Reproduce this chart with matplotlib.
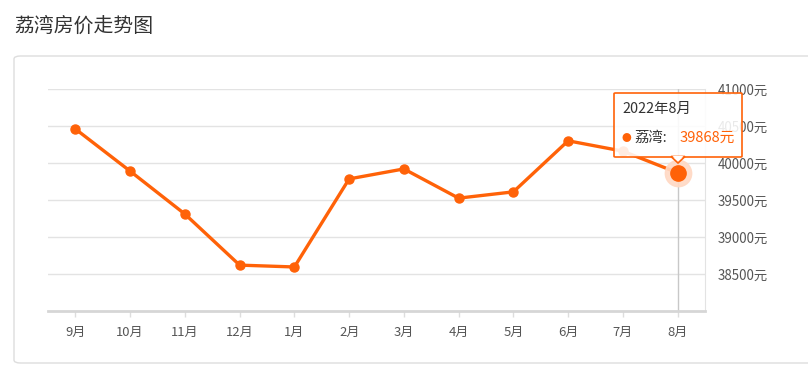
import matplotlib
matplotlib.use("Agg")
import matplotlib.pyplot as plt
from matplotlib.patches import FancyBboxPatch, Polygon

plt.rcParams['font.family'] = ['Noto Sans CJK SC', 'DejaVu Sans']

months = ['9月', '10月', '11月', '12月', '1月', '2月', '3月', '4月', '5月', '6月', '7月', '8月']
prices = [40460, 39890, 39310, 38620, 38595, 39785, 39920, 39525, 39610, 40300, 40160, 39868]
yticks = [38500, 39000, 39500, 40000, 40500, 41000]
title = '荔湾房价走势图'
tip_title = '2022年8月'
tip_name = '荔湾:'

W, H = 808, 372
orange = '#ff6208'

fig = plt.figure(figsize=(W / 100, H / 100), dpi=100)


def px(x, y):
    # pixel (from top-left) -> figure fraction
    return x / W, 1 - y / H


# title + card
fig.text(*px(14, 26), title, fontsize=14.3, color='#333333', va='center', ha='left')
card = FancyBboxPatch(px(14, 363), (W + 20) / W, (363 - 56) / H,
                      boxstyle='round,pad=0,rounding_size=0.008',
                      transform=fig.transFigure, fc='white', ec='#dddddd', lw=1,
                      zorder=-5)
fig.patches.append(card)

l, b = px(48, 311)
r, t = px(705, 89)
ax = fig.add_axes([l, b, r - l, t - b])
ax.set_facecolor('none')

x = list(range(len(months)))
ax.plot(x, prices, color=orange, lw=2.4, marker='o', ms=6.5, zorder=3)

ax.set_xlim(-0.5, len(months) - 0.5)
ax.set_ylim(38000, 41000)
ax.set_xticks(x)
ax.set_xticklabels(months)
ax.set_yticks(yticks)
ax.set_yticklabels([f'{v}元' for v in yticks])
ax.yaxis.tick_right()
ax.tick_params(axis='y', length=0, pad=9, labelsize=9.6, labelcolor='#555555')
ax.tick_params(axis='x', length=4, width=1, color='#dddddd', pad=7,
               labelsize=9.4, labelcolor='#555555')
ax.grid(axis='y', color='#e3e3e3', lw=1)
for s in ['top', 'left']:
    ax.spines[s].set_visible(False)
ax.spines['right'].set_color('#e3e3e3')
ax.spines['bottom'].set_color('#d6d6d6')
ax.spines['bottom'].set_linewidth(2)

# hover state on last point
last = len(months) - 1
ax.axvline(last, color='#c8c8c8', lw=1, zorder=2)
ax.plot(last, prices[last], 'o', ms=19, color='#ffd9c4', alpha=0.9, zorder=4)
ax.plot(last, prices[last], 'o', ms=11, color=orange, zorder=5)

# tooltip
bx0, by0 = px(614, 157)
bx1, by1 = px(742, 93)
tip = FancyBboxPatch((bx0, by0), bx1 - bx0, by1 - by0,
                     boxstyle='round,pad=0,rounding_size=0.002',
                     transform=fig.transFigure, fc=(1, 1, 1, 0.88), ec=orange, lw=1.2,
                     zorder=10)
fig.patches.append(tip)
tri = Polygon([px(671, 156.5), px(685, 156.5), px(678, 163)], closed=True,
              transform=fig.transFigure, fc='white', ec=orange, lw=1.2, zorder=11)
fig.patches.append(tri)
fig.patches.append(Polygon([px(672.5, 156), px(683.5, 156), px(678, 161)], closed=True,
                           transform=fig.transFigure, fc='white', ec='none', zorder=12))
fig.text(*px(622, 109), tip_title, fontsize=10.4, color='#333333', va='center', zorder=13)
fig.text(*px(626, 138), '●', fontsize=7, color=orange, va='center', ha='center', zorder=13)
fig.text(*px(634, 138), tip_name, fontsize=10.4, color='#333333', va='center', zorder=13)
fig.text(*px(680, 138), f'{prices[last]}元', fontsize=10.6, color=orange, va='center', zorder=13)

fig.savefig('out.png', dpi=100)
